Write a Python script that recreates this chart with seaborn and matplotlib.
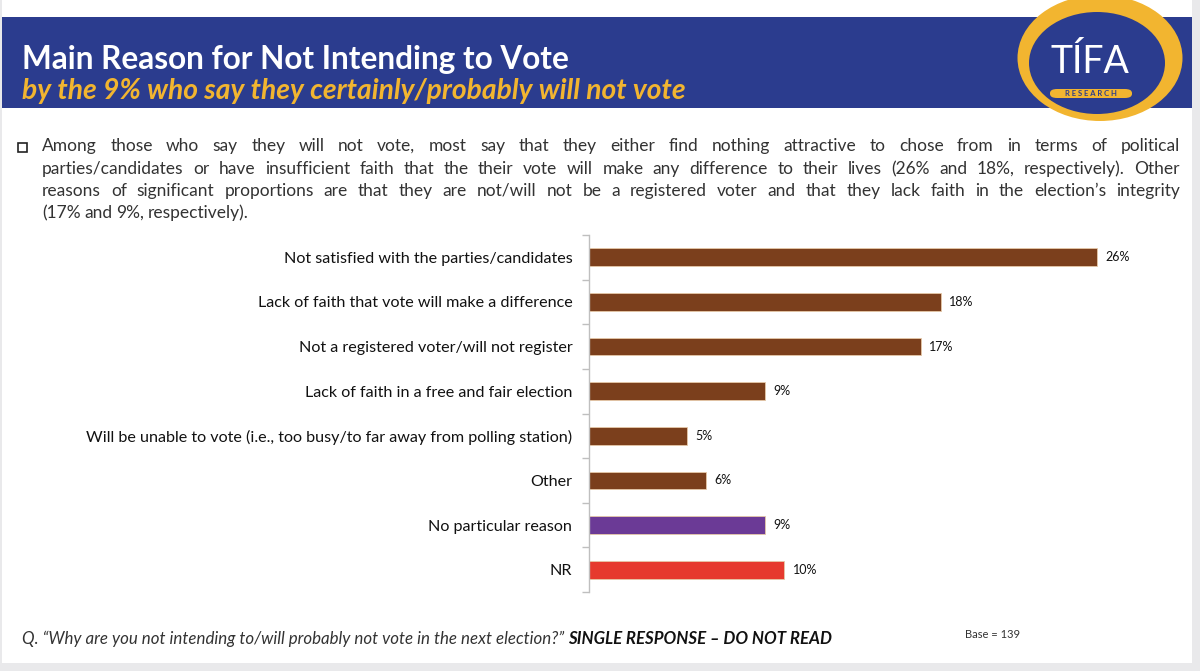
import matplotlib
matplotlib.use("Agg")
import matplotlib.pyplot as plt
from matplotlib.patches import Rectangle, Ellipse, FancyBboxPatch
import pandas as pd
import seaborn as sns

# ---- data ----
reasons = [
    "Not satisfied with the parties/candidates",
    "Lack of faith that vote will make a difference",
    "Not a registered voter/will not register",
    "Lack of faith in a free and fair election",
    "Will be unable to vote (i.e., too busy/to far away from polling station)",
    "Other",
    "No particular reason",
    "NR",
]
shares = [26, 18, 17, 9, 5, 6, 9, 10]
bar_colors = ["#7B3F1C"] * 6 + ["#6B3A96", "#E63A2E"]

title = "Main Reason for Not Intending to Vote"
subtitle = "by the 9% who say they certainly/probably will not vote"
bullet_lines = [
    "Among those who say they will not vote, most say that they either find nothing attractive to chose from in terms of political",
    "parties/candidates or have insufficient faith that the their vote will make any difference to their lives (26% and 18%, respectively).  Other",
    "reasons of significant proportions are that they are not/will not be a registered voter and that they lack faith in the election\u2019s integrity",
    "(17% and 9%, respectively).",
]
question = "Q. \u201cWhy are you not intending to/will probably not vote in the next election?\u201d "
instruction = "SINGLE RESPONSE \u2013 DO NOT READ"
base_note = "Base = 139"

BLUE = "#2B3C8E"
YELLOW = "#F2B530"
TEXT = "#333333"

W, H = 1200, 671
sns.set_style("white")
plt.rcParams["font.family"] = ["Lato", "DejaVu Sans"]

fig = plt.figure(figsize=(W / 100, H / 100), dpi=100, facecolor="#E9E9EB")


def fx(x):
    return x / W


def fy(y):
    return 1 - y / H


# slide background
fig.patches.append(Rectangle((fx(2), fy(663)), fx(1192) - fx(2), fy(0) - fy(663),
                             transform=fig.transFigure, facecolor="white", edgecolor="none", zorder=-5))
# banner
fig.patches.append(Rectangle((fx(2), fy(108)), fx(1192) - fx(2), fy(17) - fy(108),
                             transform=fig.transFigure, facecolor=BLUE, edgecolor="none", zorder=1))

fig.text(fx(22), fy(60), title, color="white", fontsize=22.7, fontweight="bold", va="center", zorder=3)
fig.text(fx(22), fy(91), subtitle, color=YELLOW, fontsize=20.3, fontweight="bold", style="italic",
         va="center", zorder=3)

# logo (approximation)
fig.patches.append(Ellipse((fx(1100), fy(58)), 165 / W, 126 / H, angle=0,
                           transform=fig.transFigure, facecolor=YELLOW, edgecolor="none", zorder=2))
fig.patches.append(Ellipse((fx(1097), fy(63)), 136 / W, 102 / H, angle=0,
                           transform=fig.transFigure, facecolor=BLUE, edgecolor="none", zorder=2))
fig.text(fx(1090), fy(62), "T\u00cdFA", color="white", fontsize=27, ha="center", va="center", zorder=3)
fig.patches.append(FancyBboxPatch((fx(1050), fy(98)), 82 / W, 9 / H,
                                  boxstyle="round,pad=0.0,rounding_size=0.006",
                                  transform=fig.transFigure, facecolor=YELLOW, edgecolor="none", zorder=3))
fig.text(fx(1091), fy(93.5), "R E S E A R C H", color=BLUE, fontsize=5.5, ha="center", va="center",
         fontweight="bold", zorder=4)

# bullet box
fig.patches.append(Rectangle((fx(18), fy(152)), 9 / W, 9 / H, transform=fig.transFigure,
                             facecolor="white", edgecolor="#222222", linewidth=1.2, zorder=3))

# justified bullet text
renderer = fig.canvas.get_renderer()
x0, x1 = 42, 1180
line_y = [146, 169, 191, 213]
for i, line in enumerate(bullet_lines):
    words = line.split()
    objs = [fig.text(0, fy(line_y[i]), w, fontsize=12.5, color=TEXT, va="center") for w in words]
    widths = [t.get_window_extent(renderer).width for t in objs]
    if i < len(bullet_lines) - 1:
        gap = (x1 - x0 - sum(widths)) / (len(words) - 1)
    else:
        gap = 3.6
    x = x0
    for t, w in zip(objs, widths):
        t.set_x(fx(x))
        x += w + gap

# ---- chart ----
df = pd.DataFrame({"reason": reasons, "share": shares})
ax = fig.add_axes([fx(589), fy(592), fx(1175) - fx(589), fy(235) - fy(592)], zorder=2)
sns.barplot(data=df, y="reason", x="share", hue="reason", palette=bar_colors, legend=False,
            saturation=1, width=0.4, edgecolor="#E6C9A8", linewidth=0.6, ax=ax)
ax.set_xlim(0, 30)
ax.set_ylim(len(reasons) - 0.5, -0.5)
ax.set_xlabel("")
ax.set_ylabel("")
ax.set_xticks([])
for s in ["top", "right", "bottom"]:
    ax.spines[s].set_visible(False)
ax.spines["left"].set_color("#BFBFBF")
ax.spines["left"].set_linewidth(1)
ax.set_yticks(range(len(reasons)))
ax.set_yticks([k - 0.5 for k in range(len(reasons) + 1)], minor=True)
ax.tick_params(axis="y", which="major", left=True, length=0, pad=12, labelsize=11.6,
               labelcolor="#111111")
ax.tick_params(axis="y", which="minor", left=True, length=5, width=1, color="#BFBFBF",
               direction="out")
ax.set_facecolor("none")

for cont in ax.containers:
    ax.bar_label(cont, labels=[f"{v:.0f}%" for v in cont.datavalues], padding=6,
                 fontsize=9, color="#111111")

# ---- footer ----
q = fig.text(fx(22), fy(639), question, fontsize=12.2, style="italic", color=TEXT, va="center")
qw = q.get_window_extent(renderer).width
fig.text(fx(22 + qw), fy(639), instruction, fontsize=12.2, style="italic", fontweight="bold",
         color="#111111", va="center")
fig.text(fx(965), fy(635), base_note, fontsize=8, color=TEXT, va="center")

fig.savefig("out.png", dpi=100, facecolor=fig.get_facecolor())
